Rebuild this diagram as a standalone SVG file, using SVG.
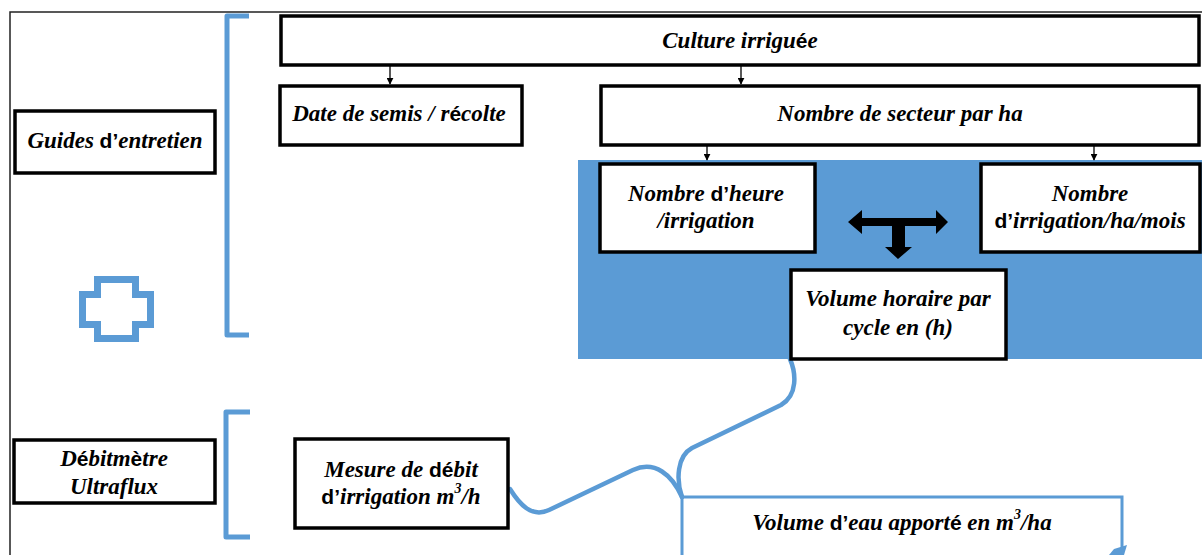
<svg xmlns="http://www.w3.org/2000/svg" width="1202" height="555" viewBox="0 0 1202 555">
  <defs>
    <style>
      .box { fill: #ffffff; stroke: #000000; stroke-width: 3.5; }
      .lbl { font-family: 'Liberation Serif', 'Times New Roman', Times, serif; font-size: 23px; font-weight: bold; font-style: italic; fill: #000000; text-anchor: middle; }
      .alt { font-family: 'Liberation Sans', Arial, sans-serif; font-style: normal; font-weight: bold; font-size: 21px; }
      .sup { font-size: 14px; }
      .brace { fill: none; stroke: #5B9BD5; stroke-width: 5; stroke-linejoin: round; }
      .flow { fill: none; stroke: #5B9BD5; stroke-width: 4.5; stroke-linecap: round; stroke-linejoin: round; }
      .tick { stroke: #000000; stroke-width: 1.3; }
    </style>
    <marker id="ah" viewBox="0 0 10 10" refX="9" refY="5" markerWidth="7" markerHeight="7" markerUnits="userSpaceOnUse" orient="auto">
      <path d="M0,0 L10,5 L0,10 Z" fill="#000000"/>
    </marker>
  </defs>

  <rect width="1202" height="555" fill="#ffffff"/>

  <!-- page frame -->
  <path d="M10,555 V12 H1202" fill="none" stroke="#222222" stroke-width="1.5"/>

  <!-- shaded block behind the hourly-volume nodes -->
  <rect id="zone" x="578" y="160" width="624" height="199" fill="#5B9BD5"/>

  <!-- brackets and plus sign -->
  <path class="brace" d="M249,16 H227 V335 H249"/>
  <path class="brace" d="M250,412 H226 V537 H250"/>
  <polygon points="97.5,279.5 135.5,279.5 135.5,294.5 150.5,294.5 150.5,324.5 135.5,324.5 135.5,338.5 97.5,338.5 97.5,324.5 82.5,324.5 82.5,294.5 97.5,294.5" fill="none" stroke="#5B9BD5" stroke-width="7"/>

  <!-- connectors -->
  <g id="connectors">
    <line class="tick" x1="390" y1="66" x2="390" y2="84" marker-end="url(#ah)"/>
    <line class="tick" x1="741" y1="66" x2="741" y2="84" marker-end="url(#ah)"/>
    <line class="tick" x1="707" y1="146" x2="707" y2="160" marker-end="url(#ah)"/>
    <line class="tick" x1="1094" y1="146" x2="1094" y2="160" marker-end="url(#ah)"/>
    <polygon points="848,222 862,210 862,218 936,218 936,210 948,222 936,234 936,226 905,226 905,247 912,247 898,259 885,247 892,247 892,226 862,226 862,234" fill="#000000"/>
    <path class="flow" d="M790,359 C796,373 798,395 781,405 L692,448 C677,456 676,480 682,497"/>
    <path class="flow" d="M510,489 C520,505 532,518 549,510 L633,470 C655,460 672,475 682,497"/>
    <polygon points="1109,555 1114,549 1127,545 1124,555" fill="#5B9BD5"/>
  </g>

  <g id="guides">
    <rect class="box" x="15" y="111" width="200" height="62"/>
    <text class="lbl" x="115" y="148">Guides <tspan class="alt">d’</tspan>entretien</text>
  </g>

  <g id="culture">
    <rect class="box" x="281" y="16" width="918" height="49"/>
    <text class="lbl" x="740" y="48">Culture irrigu<tspan class="alt">é</tspan>e</text>
  </g>

  <g id="date">
    <rect class="box" x="280" y="86" width="242" height="59"/>
    <text class="lbl" x="399" y="121">Date de semis / r<tspan class="alt">é</tspan>colte</text>
  </g>

  <g id="secteur">
    <rect class="box" x="601" y="86" width="598" height="59"/>
    <text class="lbl" x="900" y="121">Nombre de secteur par ha</text>
  </g>

  <g id="heure">
    <rect class="box" x="600" y="164" width="215" height="88"/>
    <text class="lbl" x="706" y="201">Nombre <tspan class="alt">d’</tspan>heure</text>
    <text class="lbl" x="706" y="228">/irrigation</text>
  </g>

  <g id="irrigation">
    <rect class="box" x="981" y="164" width="219" height="88"/>
    <text class="lbl" x="1090" y="201">Nombre</text>
    <text class="lbl" x="1090" y="228"><tspan class="alt">d’</tspan>irrigation/ha/mois</text>
  </g>

  <g id="volume-horaire">
    <rect class="box" x="791" y="270" width="215" height="89"/>
    <text class="lbl" x="898" y="306">Volume horaire par</text>
    <text class="lbl" x="898" y="335">cycle en (h)</text>
  </g>

  <g id="debitmetre">
    <rect class="box" x="14" y="440" width="201" height="63"/>
    <text class="lbl" x="114" y="466">D<tspan class="alt">é</tspan>bitm<tspan class="alt">è</tspan>tre</text>
    <text class="lbl" x="114" y="494">Ultraflux</text>
  </g>

  <g id="mesure">
    <rect class="box" x="295" y="439" width="213" height="89"/>
    <text class="lbl" x="401" y="477">Mesure de <tspan class="alt">dé</tspan>bit</text>
    <text class="lbl" x="401" y="504"><tspan class="alt">d’</tspan>irrigation m<tspan class="sup" dy="-11">3</tspan><tspan dy="11">/h</tspan></text>
  </g>

  <g id="volume-eau">
    <path d="M682,555 V497 H1122 V548" fill="none" stroke="#5B9BD5" stroke-width="3"/>
    <text class="lbl" x="902" y="530">Volume <tspan class="alt">d’</tspan>eau apport<tspan class="alt">é</tspan> en m<tspan class="sup" dy="-11">3</tspan><tspan dy="11">/ha</tspan></text>
  </g>
</svg>
